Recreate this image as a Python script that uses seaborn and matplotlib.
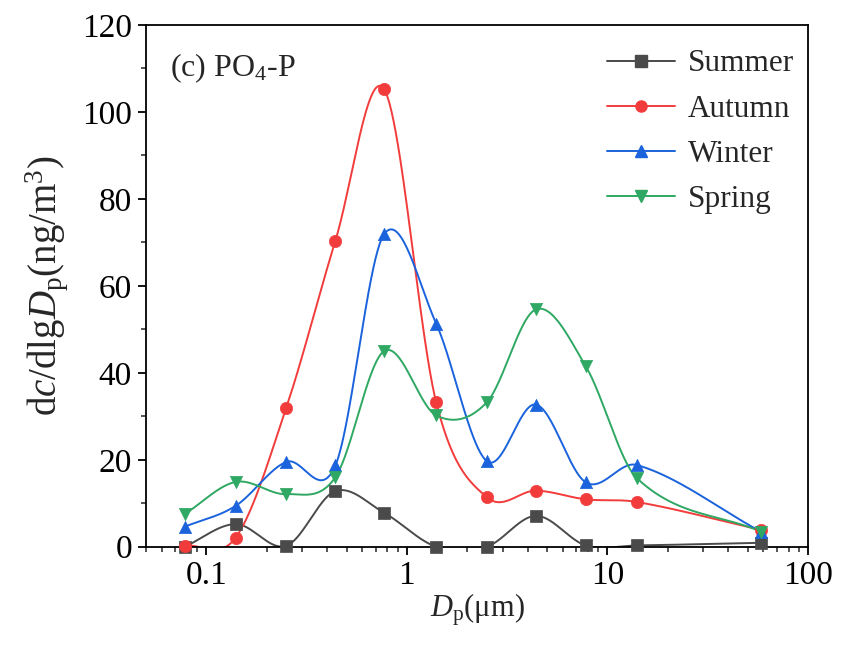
import numpy as np
import pandas as pd
import matplotlib
matplotlib.use("Agg")
import matplotlib.pyplot as plt
from matplotlib.lines import Line2D
from matplotlib.ticker import FixedLocator, LogLocator, NullFormatter, MultipleLocator
import seaborn as sns

# Particle size (µm) and size-resolved PO4-P concentrations per season
dp = [0.078, 0.14, 0.25, 0.44, 0.77, 1.4, 2.5, 4.4, 7.8, 14, 58]
summer = [0.0, 5.2, 0.2, 12.8, 7.8, 0.0, 0.0, 7.1, 0.3, 0.3, 0.9]
autumn = [0.2, 2.1, 31.9, 70.4, 105.2, 33.2, 11.4, 12.9, 10.9, 10.3, 3.9]
winter = [4.6, 9.4, 19.5, 18.7, 71.9, 51.3, 19.7, 32.7, 14.8, 18.8, 3.5]
spring = [7.5, 14.9, 12.1, 16.0, 45.0, 30.2, 33.2, 54.6, 41.5, 15.8, 3.5]

seasons = ["Summer", "Autumn", "Winter", "Spring"]
values = {"Summer": summer, "Autumn": autumn, "Winter": winter, "Spring": spring}
colors = {"Summer": "#4a4a4a", "Autumn": "#f23c3c", "Winter": "#1a63dc", "Spring": "#2ea862"}
markers = {"Summer": "s", "Autumn": "o", "Winter": "^", "Spring": "v"}

x_ticks = [0.1, 1, 10, 100]
x_tick_labels = ["0.1", "1", "10", "100"]


def hermite_smooth(x, y, xs):
    """Cubic Hermite curve through (x, y); tangents from central differences."""
    x = np.asarray(x, float)
    y = np.asarray(y, float)
    n = len(x)
    m = np.empty(n)
    m[1:-1] = (y[2:] - y[:-2]) / (x[2:] - x[:-2])
    m[0] = (y[1] - y[0]) / (x[1] - x[0])
    m[-1] = (y[-1] - y[-2]) / (x[-1] - x[-2])
    idx = np.clip(np.searchsorted(x, xs) - 1, 0, n - 2)
    h = x[idx + 1] - x[idx]
    s = (xs - x[idx]) / h
    h00 = 2 * s ** 3 - 3 * s ** 2 + 1
    h10 = s ** 3 - 2 * s ** 2 + s
    h01 = -2 * s ** 3 + 3 * s ** 2
    h11 = s ** 3 - s ** 2
    return h00 * y[idx] + h10 * h * m[idx] + h01 * y[idx + 1] + h11 * h * m[idx + 1]


# Long-form tables: measured points and smoothed curves (built in log10 Dp)
pts = pd.DataFrame([(d, v, s) for s in seasons for d, v in zip(dp, values[s])],
                   columns=["Dp", "conc", "season"])
logx = np.log10(dp)
fine = np.linspace(logx[0], logx[-1], 900)
curves = pd.DataFrame(
    [(10 ** lx, v, s) for s in seasons
     for lx, v in zip(fine, hermite_smooth(logx, values[s], fine))],
    columns=["Dp", "conc", "season"])

sns.set_style("ticks")
plt.rcParams["font.family"] = ["Liberation Serif", "DejaVu Serif"]
plt.rcParams["mathtext.fontset"] = "custom"
plt.rcParams["mathtext.rm"] = "Liberation Serif"
plt.rcParams["mathtext.it"] = "Liberation Serif:italic"

fig = plt.figure(figsize=(8.42, 6.48), dpi=100)
ax = fig.add_axes([0.1734, 0.1563, 0.7862, 0.8051])

for s in seasons:
    sns.lineplot(data=curves[curves.season == s], x="Dp", y="conc", ax=ax,
                 color=colors[s], lw=1.4, legend=False, sort=False,
                 estimator=None, zorder=2)
for s in seasons:
    sns.scatterplot(data=pts[pts.season == s], x="Dp", y="conc", ax=ax,
                    color=colors[s], marker=markers[s], s=78,
                    edgecolor=colors[s], linewidth=0.5, legend=False, zorder=3,
                    clip_on=False)

ax.set_xscale("log")
ax.set_xlim(0.05, 100)
ax.set_ylim(0, 120)

ax.xaxis.set_major_locator(FixedLocator(x_ticks))
ax.set_xticklabels(x_tick_labels)
ax.xaxis.set_minor_locator(LogLocator(base=10, subs=np.arange(2, 10)))
ax.xaxis.set_minor_formatter(NullFormatter())
ax.yaxis.set_major_locator(MultipleLocator(20))
ax.yaxis.set_minor_locator(MultipleLocator(10))

for sp in ax.spines.values():
    sp.set_linewidth(1.3)
    sp.set_color("black")
ax.tick_params(axis="both", which="major", direction="out", length=6, width=1.3,
               labelsize=24, colors="black", pad=4)
ax.tick_params(axis="both", which="minor", direction="out", length=3.5, width=1.1)
ax.tick_params(top=False, right=False, which="both")

ax.set_xlabel(r"$D_\mathrm{p}$(μm)", fontsize=22, labelpad=0)
ax.set_ylabel(r"d$c$/dlg$D_\mathrm{p}$(ng/m$^3$)", fontsize=28, labelpad=9)

ax.text(0.036, 0.902, r"(c) PO$_4$-P", transform=ax.transAxes, fontsize=23,
        va="baseline", ha="left")

handles = [Line2D([], [], color=colors[s], lw=1.4, marker=markers[s],
                  markersize=8, markeredgecolor=colors[s]) for s in seasons]
ax.legend(handles, seasons, loc="upper right", frameon=False, fontsize=22.5,
          handlelength=2.2, handletextpad=0.4, labelspacing=0.52,
          borderaxespad=0.3, bbox_to_anchor=(1.012, 0.995))

fig.savefig("out.png", dpi=100)
